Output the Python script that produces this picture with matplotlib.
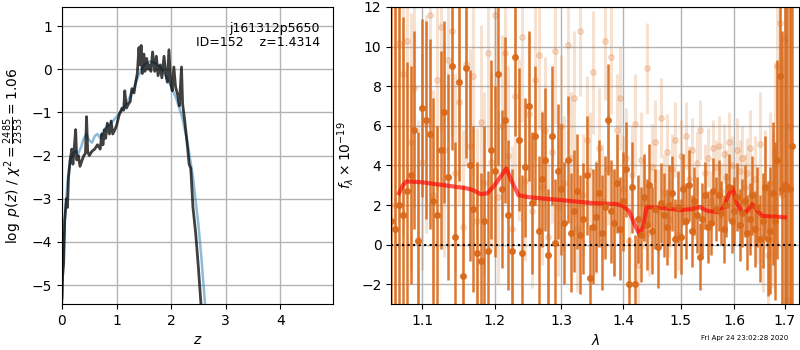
import numpy as np
import matplotlib
matplotlib.use('Agg')
import matplotlib.pyplot as plt
from matplotlib.ticker import FixedLocator, FixedFormatter, NullLocator

# p(z) panel
z_pz = [0.0, 0.01, 0.03, 0.05, 0.08, 0.10, 0.12, 0.15, 0.18, 0.20, 0.22, 0.25, 0.27, 0.30, 0.33,
        0.37, 0.40, 0.43, 0.45, 0.47, 0.50, 0.55, 0.60, 0.65, 0.70, 0.73, 0.75, 0.78, 0.80, 0.83,
        0.87, 0.90, 0.93, 0.97, 1.00, 1.05, 1.10, 1.13, 1.15, 1.18, 1.22, 1.25, 1.28, 1.32, 1.35,
        1.38, 1.41, 1.43, 1.45, 1.47, 1.50, 1.52, 1.55, 1.58, 1.60, 1.63, 1.66, 1.70, 1.73, 1.76,
        1.80, 1.83, 1.87, 1.90, 1.93, 1.96, 1.99, 2.02, 2.05, 2.08, 2.12, 2.15, 2.19, 2.21, 2.25,
        2.30, 2.33, 2.36, 2.40, 2.45, 2.50, 2.55]
logp = [-5.3, -4.8, -4.5, -3.5, -3.0, -3.2, -2.5, -2.1, -1.85, -2.2, -1.9, -1.4, -2.1, -2.0, -2.25,
        -2.1, -2.0, -1.95, -1.1, -1.9, -2.0, -1.9, -1.85, -1.75, -1.85, -1.5, -1.75, -1.4, -1.6, -1.25,
        -1.5, -1.2, -1.5, -1.4, -1.3, -1.05, -0.9, -0.95, -0.5, -0.9, -0.8, -0.75, -0.45, -0.55, -0.3,
        -0.1, 0.5, 0.1, 0.55, -0.1, 0.35, -0.05, 0.25, 0.0, 0.1, -0.05, 0.4, -0.05, 0.3, -0.15,
        0.1, -0.2, 0.3, -0.1, -0.3, 0.45, -0.3, -0.5, 0.05, -0.4, -0.6, -0.85, 0.05, -0.8, -1.2,
        -1.8, -2.2, -2.3, -3.2, -3.8, -4.6, -5.5]

z_prior = [0.0, 0.02, 0.05, 0.10, 0.15, 0.20, 0.25, 0.30, 0.35, 0.40, 0.45, 0.50, 0.55, 0.60, 0.65,
           0.70, 0.75, 0.80, 0.90, 1.00, 1.10, 1.20, 1.30, 1.40, 1.50, 1.60, 1.70, 1.80, 1.90, 2.00,
           2.10, 2.20, 2.30, 2.40, 2.50, 2.55, 2.60, 2.63]
logp_prior = [-5.4, -4.5, -3.5, -2.6, -2.1, -1.95, -1.9, -1.95, -1.8, -1.6, -1.5, -1.65, -1.7, -1.55, -1.5,
              -1.6, -1.45, -1.35, -1.25, -1.1, -0.95, -0.75, -0.5, -0.15, 0.1, 0.18, 0.15, 0.05, -0.15, -0.4,
              -0.7, -1.1, -1.7, -2.5, -3.6, -4.3, -5.1, -5.6]

# spectrum panel, dark points on 1.060-1.715 grid
lam1_min, lam1_max = 1.060, 1.715
flux1 = [1.2, 0.8, 2.0, 1.5, 2.7, 3.5, 5.8, 0.2, 6.9, 6.3,
         5.6, 2.2, 1.5, 4.8, 6.7, 3.4, 9.0, 0.4, 8.2, -1.6,
         8.9, 4.0, 1.8, -0.4, -0.8, 1.2, -0.3, 4.8, 3.7, 8.6,
         2.8, 6.3, 1.5, -0.3, 9.5, 5.3, -0.4, 3.9, 7.0, 2.1,
         5.5, 0.7, 3.3, 4.3, -0.5, 5.5, 0.1, 3.7, 2.8, 1.1,
         4.3, 0.6, 1.7, 2.7, 0.5, 1.3, 3.5, -1.7, 0.9, 1.4,
         2.6, 0.6, 1.9, 6.3, 1.7, 1.1, 3.1, 0.8, 2.2, 3.8,
         -2.0, 2.9, -2.0, 1.3, 0.5, 2.4, 1.0, 3.0, 0.7, 1.8,
         -0.1, 2.1, 1.5, 0.9, 2.0, 2.6, 0.3, 1.9, 0.4, 2.8,
         1.2, 3.0, 0.7, 2.2, 1.5, -0.6, 1.3, 2.5, 0.9, 1.1,
         2.7, 1.8, 2.5, 1.6, 0.8, 2.0, 2.9, 1.2, 1.7, 2.4,
         1.0, 1.6, 2.2, 0.6, 1.3, 2.5, 0.8, 1.9, 0.3, 1.2,
         2.9, 0.3, 0.7, 2.6, 1.2, 4.3, 8.5, 2.8, 3.0, 2.9,
         2.8, 5.0]
err1 = [15, 13, 11, 10, 6.5, 5.5, 5.0, 5.5, 4.5, 5.0,
        4.8, 5.2, 4.5, 5.0, 4.6, 5.2, 4.2, 4.8, 5.0, 4.6,
        4.5, 4.8, 4.2, 4.6, 4.4, 4.8, 4.0, 4.5, 4.3, 4.6,
        4.0, 4.2, 3.8, 4.1, 4.0, 3.6, 3.9, 3.5, 3.8, 3.6,
        3.5, 3.8, 3.4, 3.6, 3.3, 3.5, 3.2, 3.4, 3.3, 3.1,
        3.2, 3.0, 3.1, 2.9, 3.0, 2.8, 3.0, 2.7, 2.9, 2.8,
        2.7, 2.9, 2.6, 2.8, 2.6, 2.7, 2.5, 2.6, 2.5, 2.4,
        2.4, 2.3, 2.5, 2.2, 2.4, 2.2, 2.3, 2.1, 2.2, 2.0,
        2.1, 2.0, 2.1, 1.9, 2.0, 1.9, 2.0, 1.8, 1.9, 1.8,
        1.9, 1.8, 1.8, 1.7, 1.9, 1.7, 1.8, 1.7, 1.8, 1.6,
        1.7, 1.6, 1.8, 1.6, 1.7, 1.6, 1.7, 1.6, 1.7, 1.7,
        1.8, 1.7, 1.8, 1.9, 1.8, 2.0, 1.9, 2.0, 2.2, 2.4,
        2.6, 2.9, 3.2, 3.6, 4.0, 5.0, 6.0, 8.0, 10, 13,
        15, 15]

# light points on 1.065-1.710 grid
lam2_min, lam2_max = 1.065, 1.710
flux2 = [2.0, 10.2, 8.6, 10.3, 5.2, 7.9, 0.3, 4.2, 6.1, 11.6,
         2.5, 8.3, 11.0, 4.8, 9.3, 10.8, 3.6, 7.2, 0.9, 9.1,
         5.0, 8.5, 1.2, 6.2, 3.1, 9.7, 4.2, 11.6, 2.4, 6.0,
         9.7, 4.5, 0.8, 7.5, 5.3, 10.5, 3.2, 6.6, 1.7, 8.3,
         9.6, 2.9, 5.8, 0.4, 4.7, 9.8, 1.9, 6.0, 3.1, 10.1,
         4.4, 7.4, 0.8, 10.8, 2.5, 5.3, 3.7, 8.7, 1.4, 4.9,
         2.2, 10.3, 3.8, 9.5, 1.1, 5.8, 7.4, 2.8, 4.4, 0.2,
         3.5, 6.1, -1.0, 4.3, 2.1, 8.9, 0.6, 3.9, 5.2, 1.7,
         6.4, 2.6, 4.7, 1.3, 3.8, 5.3, 0.5, 4.5, 2.9, 5.5,
         3.3, 4.8, 1.9, 4.1, 5.8, 0.9, 3.6, 4.4, 2.2, 4.9,
         3.9, 5.0, 2.7, 4.6, 3.4, 5.2, 4.0, 2.5, 4.8, 3.7,
         4.4, 2.9, 3.6, 4.9, 2.0, 3.3, 1.5, 5.1, 0.4, 2.8,
         -0.5, 3.1, 1.8, 4.7, 9.0, 11.2, 2.5, 10.4, -2.8, 6.0]
err2 = [12, 9, 8, 7, 6.5, 6, 6, 5.5, 5.5, 5.5,
        5.3, 5.5, 5.2, 5.4, 5.0, 5.3, 5.0, 5.2, 4.9, 5.1,
        4.9, 5.0, 4.7, 4.9, 4.6, 4.8, 4.5, 4.7, 4.4, 4.6,
        4.4, 4.5, 4.2, 4.4, 4.1, 4.3, 4.0, 4.1, 3.9, 4.0,
        3.8, 3.9, 3.7, 3.8, 3.6, 3.7, 3.5, 3.6, 3.4, 3.5,
        3.3, 3.4, 3.2, 3.3, 3.1, 3.2, 3.0, 3.1, 2.9, 3.0,
        2.9, 3.0, 2.8, 2.9, 2.7, 2.8, 2.6, 2.7, 2.5, 2.6,
        2.5, 2.5, 2.4, 2.4, 2.3, 2.3, 2.2, 2.2, 2.1, 2.1,
        2.0, 2.0, 1.9, 1.9, 1.8, 1.9, 1.8, 1.8, 1.7, 1.7,
        1.7, 1.6, 1.6, 1.6, 1.5, 1.5, 1.5, 1.5, 1.5, 1.4,
        1.4, 1.5, 1.4, 1.5, 1.4, 1.5, 1.5, 1.5, 1.6, 1.6,
        1.6, 1.7, 1.8, 1.9, 2.0, 2.2, 2.4, 2.6, 2.8, 3.0,
        3.3, 3.6, 4.0, 4.5, 5.0, 6.0, 7.0, 8.0, 10, 12]

# best-fit model
lam_model = [1.070, 1.075, 1.080, 1.10, 1.12, 1.14, 1.16, 1.17, 1.18, 1.19, 1.20, 1.21, 1.217,
             1.225, 1.235, 1.25, 1.30, 1.35, 1.39, 1.40, 1.41, 1.42, 1.428, 1.435, 1.44, 1.47,
             1.50, 1.52, 1.535, 1.55, 1.57, 1.58, 1.59, 1.596, 1.605, 1.615, 1.625, 1.635,
             1.645, 1.655, 1.68, 1.70]
flux_model = [2.6, 3.0, 3.2, 3.15, 3.05, 2.95, 2.85, 2.75, 2.55, 2.6, 3.0, 3.5, 3.85,
              3.2, 2.5, 2.4, 2.25, 2.1, 2.05, 1.95, 1.7, 1.0, 0.5, 1.0, 1.9, 1.85,
              1.75, 1.8, 1.9, 1.7, 1.65, 1.9, 2.6, 2.9, 2.1, 1.6, 1.7, 2.05,
              1.7, 1.45, 1.42, 1.38]

lam1 = np.linspace(lam1_min, lam1_max, len(flux1))
lam2 = np.linspace(lam2_min, lam2_max, len(flux2))
orange = '#d9691a'

fig = plt.figure(figsize=(8, 3.5), dpi=100)

ax = fig.add_axes([0.0775, 0.131, 0.339, 0.849])
ax.plot(z_prior, logp_prior, color='tab:blue', alpha=0.5, lw=1.8)
ax.plot(z_pz, logp, color='k', alpha=0.75, lw=2)
ax.set_xlim(0, 4.97)
ax.set_ylim(-5.44, 1.44)
ax.set_xlabel('$z$')
ax.set_ylabel(r'$\log\ p(z)$ / $\chi^2=\frac{2485}{2353}=1.06$')
ax.grid(color='0.7', lw=1)
ax.set_axisbelow(True)
ax.text(0.95, 0.95, 'j161312p5650\nID=152    z=1.4314', transform=ax.transAxes,
        ha='right', va='top', fontsize=9, linespacing=1.1)

ax2 = fig.add_axes([0.489, 0.131, 0.510, 0.849])
ax2.errorbar(lam2, flux2, yerr=err2, fmt='o', color=orange, alpha=0.2,
             ms=4, elinewidth=2.2, capsize=0)
ax2.errorbar(lam1, flux1, yerr=err1, fmt='o', color=orange, alpha=0.9,
             ms=4, elinewidth=1.8, capsize=0)
ax2.plot(lam_model, flux_model, color='red', alpha=0.65, lw=3)
ax2.axhline(0, color='k', ls=':', lw=1.5)
ax2.set_xscale('log')
ticks = [1.1, 1.2, 1.3, 1.4, 1.5, 1.6, 1.7]
ax2.xaxis.set_major_locator(FixedLocator(ticks))
ax2.xaxis.set_major_formatter(FixedFormatter(['%.1f' % t for t in ticks]))
ax2.xaxis.set_minor_locator(NullLocator())
ax2.set_xlim(1.06, 1.7295)
ax2.set_ylim(-3, 12)
ax2.set_xlabel(r'$\lambda$')
ax2.set_ylabel(r'$f_\lambda \times 10^{-19}$')
ax2.grid(color='0.7', lw=1)

fig.text(0.985, 0.025, 'Fri Apr 24 23:02:28 2020', ha='right', va='bottom', fontsize=5)

fig.savefig('out.png', dpi=100)
